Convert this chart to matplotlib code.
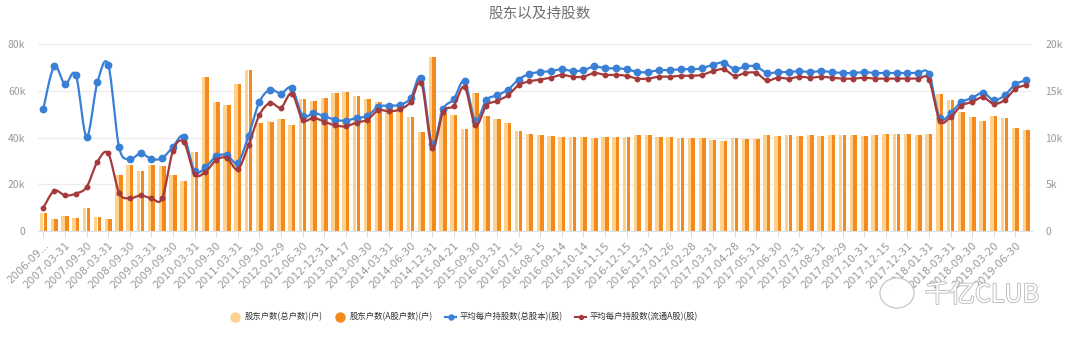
import numpy as np
import matplotlib
matplotlib.use("Agg")
import matplotlib.pyplot as plt
import matplotlib.patheffects as pe
from matplotlib.lines import Line2D
from matplotlib.patches import Ellipse
from matplotlib.ticker import FuncFormatter

plt.rcParams["font.family"] = ["Noto Sans CJK SC", "DejaVu Sans"]

# 股东户数 (千户), 92 report dates, only every second date is labelled
holders_total = [
    7.5, 5.1, 6.4, 5.6, 10.0, 6.0, 5.1, 24.0, 28.1, 25.8,
    28.1, 27.7, 24.0, 21.4, 33.7, 65.7, 55.3, 53.9, 62.8, 68.9,
    46.1, 47.2, 48.0, 45.3, 56.5, 55.6, 56.8, 59.2, 59.5, 57.9,
    56.5, 55.0, 54.5, 53.0, 48.6, 42.5, 74.6, 50.4, 49.5, 43.6,
    59.2, 49.4, 48.0, 46.1, 42.8, 41.6, 41.1, 40.8, 40.1, 40.3,
    40.4, 39.6, 40.1, 40.1, 40.1, 41.1, 41.1, 40.4, 40.4, 39.9,
    39.9, 39.8, 38.9, 38.5, 39.6, 39.2, 39.2, 41.1, 40.7, 41.1,
    40.7, 41.1, 40.7, 41.1, 41.1, 41.1, 40.7, 41.1, 41.4, 41.4,
    41.4, 41.1, 41.4, 58.5, 56.0, 50.8, 48.6, 47.2, 49.3, 48.2,
    44.2, 43.2,
]
holders_a = [
    7.5, 5.1, 6.4, 5.6, 10.0, 6.0, 5.1, 24.0, 28.1, 25.8,
    28.1, 27.7, 24.0, 21.4, 33.7, 65.7, 55.3, 53.9, 62.8, 68.9,
    46.1, 46.5, 48.0, 45.3, 56.5, 55.6, 56.8, 59.2, 59.5, 57.9,
    56.5, 55.0, 54.5, 53.0, 48.6, 42.5, 74.6, 50.4, 49.5, 43.6,
    59.2, 49.4, 48.0, 46.1, 42.8, 41.6, 41.1, 40.8, 40.1, 40.3,
    40.4, 39.6, 40.1, 40.1, 40.1, 41.1, 41.1, 40.4, 40.4, 39.9,
    39.9, 39.8, 38.9, 38.5, 39.6, 39.2, 39.2, 41.1, 40.7, 41.1,
    40.7, 41.1, 40.7, 41.1, 41.1, 41.1, 40.7, 41.1, 41.4, 41.4,
    41.4, 41.1, 41.4, 58.5, 56.0, 50.8, 48.6, 47.2, 49.3, 48.2,
    44.2, 43.2,
]
# 平均每户持股数 (千股)
avg_total = [
    13.1, 17.6, 15.7, 16.7, 10.1, 15.9, 17.8, 9.0, 7.7, 8.3,
    7.7, 7.8, 9.0, 10.1, 6.4, 6.8, 8.0, 8.1, 7.3, 10.2,
    13.8, 15.1, 14.7, 15.3, 12.3, 12.6, 12.3, 11.9, 11.8, 12.1,
    12.3, 13.3, 13.4, 13.5, 14.2, 16.4, 9.3, 13.0, 14.1, 16.0,
    11.8, 14.0, 14.5, 15.1, 16.2, 16.8, 17.0, 17.1, 17.3, 17.1,
    17.2, 17.6, 17.4, 17.4, 17.3, 17.0, 17.0, 17.2, 17.2, 17.3,
    17.3, 17.4, 17.8, 18.0, 17.3, 17.6, 17.6, 16.9, 17.0, 17.0,
    17.1, 17.0, 17.1, 17.0, 16.9, 16.9, 17.0, 16.9, 16.9, 16.9,
    16.9, 16.9, 16.8, 12.1, 12.6, 13.8, 14.2, 14.8, 14.0, 14.5,
    15.7, 16.1,
]
avg_float_a = [
    2.5, 4.3, 3.8, 4.0, 4.7, 7.4, 8.3, 4.1, 3.5, 3.8,
    3.5, 3.5, 8.6, 9.5, 6.1, 6.3, 7.6, 7.8, 6.6, 9.2,
    12.4, 13.7, 13.2, 14.7, 11.9, 12.1, 11.7, 11.3, 11.2, 11.6,
    11.9, 12.9, 12.8, 13.0, 13.8, 15.8, 8.9, 12.7, 13.4, 15.4,
    11.3, 13.4, 13.9, 14.5, 15.6, 16.0, 16.2, 16.4, 16.7, 16.5,
    16.5, 16.9, 16.7, 16.7, 16.6, 16.3, 16.3, 16.5, 16.5, 16.6,
    16.6, 16.7, 17.1, 17.3, 16.6, 16.9, 16.9, 16.1, 16.4, 16.3,
    16.5, 16.4, 16.5, 16.4, 16.3, 16.3, 16.4, 16.3, 16.3, 16.3,
    16.3, 16.3, 16.2, 11.8, 12.2, 13.4, 13.8, 14.3, 13.6, 14.0,
    15.2, 15.6,
]
tick_labels = [
    "2006-09...", "2007-03-31", "2007-09-30", "2008-03-31", "2008-09-30",
    "2009-03-31", "2009-09-30", "2010-03-31", "2010-09-30", "2011-03-31",
    "2011-09-30", "2012-02-29", "2012-06-30", "2012-12-31", "2013-04-17",
    "2013-09-30", "2014-03-31", "2014-06-30", "2014-12-31", "2015-04-21",
    "2015-09-30", "2016-03-31", "2016-07-15", "2016-08-15", "2016-09-14",
    "2016-10-14", "2016-11-15", "2016-12-15", "2016-12-31", "2017-01-26",
    "2017-02-28", "2017-03-31", "2017-04-28", "2017-05-31", "2017-06-30",
    "2017-07-31", "2017-08-31", "2017-09-29", "2017-10-31", "2017-12-15",
    "2017-12-31", "2018-01-31", "2018-03-31", "2018-09-30", "2019-03-20",
    "2019-06-30",
]
series_names = ["股东户数(总户数)(户)", "股东户数(A股户数)(户)",
                "平均每户持股数(总股本)(股)", "平均每户持股数(流通A股)(股)"]

C_LIGHT, C_DARK = "#fdd18e", "#f28a1e"
C_BLUE, C_RED = "#3a7fd6", "#a53a3c"
GRID = "#ececec"
LABEL = "#999999"


def smooth(xs, ys, n=16):
    # catmull-rom path through the points, like echarts smooth lines
    x = np.asarray(xs, float); y = np.asarray(ys, float)
    px = np.r_[x[0], x, x[-1]]; py = np.r_[y[0], y, y[-1]]
    t = np.linspace(0, 1, n, endpoint=False)[:, None]
    out = []
    for p in (px, py):
        p0, p1, p2, p3 = p[:-3], p[1:-2], p[2:-1], p[3:]
        seg = 0.5 * (2 * p1 + (-p0 + p2) * t + (2 * p0 - 5 * p1 + 4 * p2 - p3) * t ** 2
                     + (-p0 + 3 * p1 - 3 * p2 + p3) * t ** 3)
        out.append(np.r_[seg.T.ravel(), p[-2]])
    return out


n = len(holders_total)
x = np.arange(n)
ht = np.array(holders_total) * 1000
ha = np.array(holders_a) * 1000
at = np.array(avg_total) * 1000
af = np.array(avg_float_a) * 1000

fig = plt.figure(figsize=(10.8, 3.43), dpi=100)
ax = fig.add_axes([38 / 1080, 112 / 343, 993.5 / 1080, 187 / 343])
ax2 = ax.twinx()

bw = 0.32
ax.bar(x - 0.17, ht, width=bw, color=C_LIGHT, zorder=2)
ax.bar(x + 0.17, ha, width=bw, color=C_DARK, zorder=2)

sx, sy = smooth(x, at)
ax2.plot(sx, sy, color=C_BLUE, lw=1.6, zorder=3)
ax2.plot(x, at, "o", color=C_BLUE, ms=4.6, zorder=3)
sx, sy = smooth(x, af)
ax2.plot(sx, sy, color=C_RED, lw=1.6, zorder=4)
ax2.plot(x, af, "o", color=C_RED, ms=3.2, zorder=4)

ax.set_xlim(-0.5, n - 0.5)
ax.set_ylim(0, 80000)
ax2.set_ylim(0, 20000)
ax.set_yticks(np.arange(0, 80001, 20000))
ax2.set_yticks(np.arange(0, 20001, 5000))
kfmt = FuncFormatter(lambda v, _: "0" if v == 0 else f"{v / 1000:g}k")
ax.yaxis.set_major_formatter(kfmt)
ax2.yaxis.set_major_formatter(kfmt)
ax.yaxis.grid(True, color=GRID, lw=0.9)
ax.set_axisbelow(True)

for a in (ax, ax2):
    for s in a.spines.values():
        s.set_visible(False)
    a.tick_params(axis="y", length=0, labelcolor=LABEL, labelsize=7.5)
ax.spines["bottom"].set_visible(True)
ax.spines["bottom"].set_color("#dde2ea")
ax.tick_params(axis="y", pad=9)
ax2.tick_params(axis="y", pad=10)

ax.set_xticks(x[::2])
ax.set_xticklabels(tick_labels, rotation=45, ha="right", va="top",
                   rotation_mode="anchor", family="DejaVu Sans")
ax.tick_params(axis="x", length=4, color="#d3dbe6", labelcolor=LABEL,
               labelsize=7.6, pad=2.5)

fig.text(0.5, 1 - 14 / 343, "股东以及持股数", ha="center", va="center",
         fontsize=10.5, color="#707070")

handles = [
    Line2D([], [], ls="none", marker="o", ms=6.5, color=C_LIGHT),
    Line2D([], [], ls="none", marker="o", ms=6.5, color=C_DARK),
    Line2D([], [], color=C_BLUE, lw=1.5, marker="o", ms=3.6),
    Line2D([], [], color=C_RED, lw=1.5, marker="o", ms=2.8),
]
leg = fig.legend(handles, series_names, loc="center", ncol=4,
                 bbox_to_anchor=(464 / 1080, 26 / 343), frameon=False,
                 fontsize=6.0, handlelength=1.3, handletextpad=0.45,
                 columnspacing=1.5)
for t in leg.get_texts():
    t.set_color("#333333")

# watermark
fig.add_artist(Ellipse((897 / 1080, 50 / 343), 34 / 1080, 30 / 343,
                       transform=fig.transFigure, fc="white", ec="#c9c9c9",
                       lw=1.0, alpha=0.95, zorder=10))
fig.text(982 / 1080, 48 / 343, "千亿CLUB", ha="center", va="center",
         fontsize=18, color="white", zorder=11,
         path_effects=[pe.withStroke(linewidth=1.2, foreground="#b8b8b8")])

fig.savefig("out.png", dpi=100)
